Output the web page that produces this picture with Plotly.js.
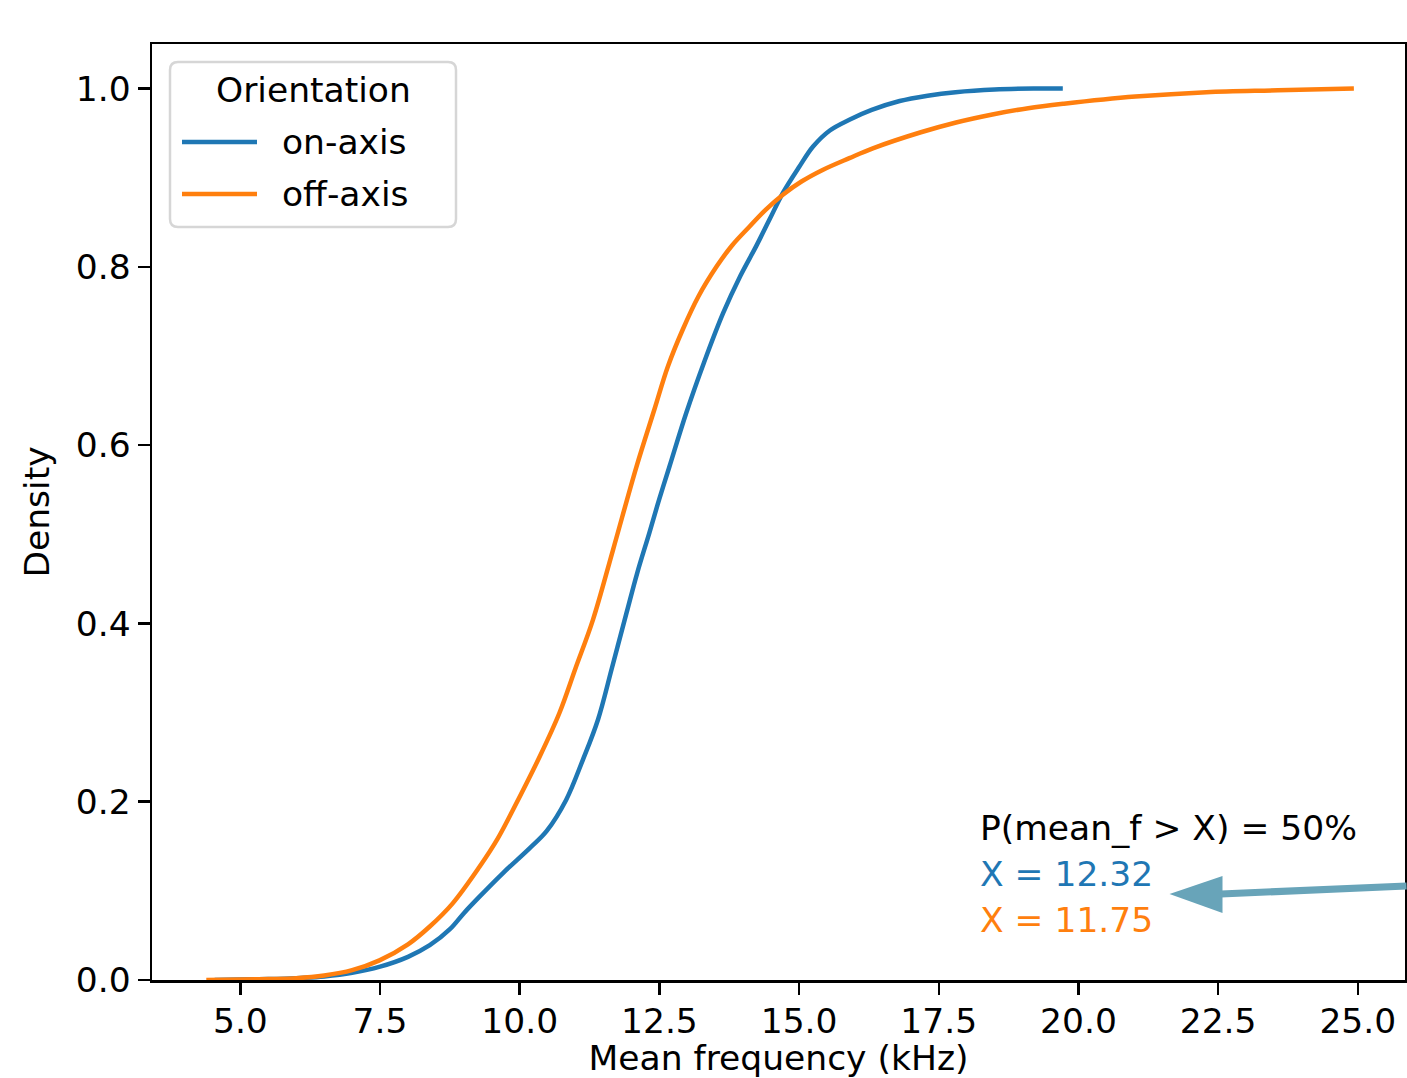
<!DOCTYPE html>
<html>
<head>
<meta charset="utf-8">
<script src="https://cdn.plot.ly/plotly-3.0.1.min.js"></script>
<style>html,body{margin:0;padding:0;background:#fff;}</style>
</head>
<body>
<div id="chart" style="width:1407px;height:1078px;"></div>
<script>
// ---- data (cumulative KDE of mean frequency) ----
const legendTitle = "Orientation";
const seriesNames = ["on-axis", "off-axis"];
const seriesColors = ["#1f77b4", "#ff7f0e"];

const onAxisX = [4.54, 5.0, 5.5, 6.0, 6.5, 7.0, 7.5, 8.0, 8.39, 8.75, 9.0, 9.28, 9.7, 10.18, 10.48, 10.83, 11.13, 11.40, 11.65, 11.91, 12.10, 12.32, 12.50, 12.68, 12.98, 13.3, 13.64, 13.95, 14.23, 14.47, 14.71, 15.0, 15.25, 15.55, 15.9, 16.3, 16.8, 17.3, 17.8, 18.5, 19.2, 19.72];
const onAxisY = [0, 0.0005, 0.001, 0.002, 0.004, 0.008, 0.015, 0.026, 0.039, 0.057, 0.075, 0.0935, 0.12, 0.148, 0.167, 0.202, 0.247, 0.292, 0.350, 0.4115, 0.456, 0.5017, 0.540, 0.576, 0.636, 0.693, 0.748, 0.790, 0.823, 0.853, 0.883, 0.912, 0.935, 0.953, 0.965, 0.976, 0.986, 0.992, 0.996, 0.999, 1.0, 1.0];

const offAxisX = [4.39, 5.0, 5.5, 6.0, 6.5, 7.0, 7.49, 8.0, 8.39, 8.8, 9.28, 9.6, 9.88, 10.36, 10.71, 11.0, 11.31, 11.67, 12.09, 12.41, 12.65, 12.92, 13.2, 13.52, 13.8, 14.11, 14.4, 14.71, 15.05, 15.43, 15.9, 16.32, 17.18, 17.81, 18.46, 19.1, 19.74, 21.02, 22.29, 23.57, 24.93];
const offAxisY = [0, 0.0005, 0.001, 0.002, 0.005, 0.011, 0.022, 0.04, 0.06, 0.086, 0.127, 0.158, 0.191, 0.251, 0.2995, 0.35, 0.404, 0.4826, 0.576, 0.64, 0.688, 0.73, 0.767, 0.80, 0.824, 0.845, 0.864, 0.881, 0.896, 0.909, 0.922, 0.933, 0.951, 0.962, 0.971, 0.978, 0.983, 0.991, 0.996, 0.998, 1.0];

const medianLabel = "P(mean_f > X) = 50%";
const medianValues = [12.32, 11.75];

const xTickVals = [5.0, 7.5, 10.0, 12.5, 15.0, 17.5, 20.0, 22.5, 25.0];
const yTickVals = [0.0, 0.2, 0.4, 0.6, 0.8, 1.0];

// ---- figure ----
const FONT = "DejaVu Sans, Liberation Sans, sans-serif";
const FS = 34.5;
const W = 1407, H = 1078;
const M = {l: 152, r: 2, t: 44, b: 98};
const PW = W - M.l - M.r, PH = H - M.t - M.b;
// pixel -> paper helpers (for legend decoration only)
const px = v => (v - M.l) / PW;
const py = v => (H - M.b - v) / PH;

const traces = seriesNames.map((name, i) => ({
  x: i === 0 ? onAxisX : offAxisX,
  y: i === 0 ? onAxisY : offAxisY,
  name: name, type: "scatter", mode: "lines", showlegend: false,
  line: {color: seriesColors[i], width: 4.5, shape: "spline", smoothing: 1.0}
}));

// custom matplotlib-style legend box
const lb = {x0: 170, x1: 456, y0: 62, y1: 227, r: 8};
const rx = lb.r / PW, ry = lb.r / PH;
const X0 = px(lb.x0), X1 = px(lb.x1), YT = py(lb.y0), YB = py(lb.y1);
const boxPath = `M ${X0+rx},${YT} L ${X1-rx},${YT} Q ${X1},${YT} ${X1},${YT-ry} L ${X1},${YB+ry} Q ${X1},${YB} ${X1-rx},${YB} L ${X0+rx},${YB} Q ${X0},${YB} ${X0},${YB+ry} L ${X0},${YT-ry} Q ${X0},${YT} ${X0+rx},${YT} Z`;
const entryY = [142, 194];

const shapes = [
  {type: "path", xref: "paper", yref: "paper", path: boxPath,
   fillcolor: "rgba(255,255,255,0.85)", line: {color: "#d6d6d6", width: 2.5}, layer: "above"}
];
const annotations = [
  {x: px(313), y: py(90), xref: "paper", yref: "paper", text: legendTitle, showarrow: false,
   xanchor: "center", yanchor: "middle", font: {family: FONT, size: FS, color: "#000"}}
];
seriesNames.forEach((name, i) => {
  shapes.push({type: "line", xref: "paper", yref: "paper", x0: px(182), x1: px(257), y0: py(entryY[i]), y1: py(entryY[i]),
               line: {color: seriesColors[i], width: 4.5}, layer: "above"});
  annotations.push({x: px(280), y: py(entryY[i]), xref: "paper", yref: "paper", text: name, showarrow: false,
                    xanchor: "left", yanchor: "middle", font: {family: FONT, size: FS, color: "#000"}});
});

// median annotation text
const textX = 18.2;
const arrowColor = "#68a4b9";
annotations.push(
  {x: textX, y: 0.1706, xref: "x", yref: "y", text: medianLabel, showarrow: false,
   xanchor: "left", yanchor: "middle", font: {family: FONT, size: FS, color: "#000"}},
  {x: textX, y: 0.119, xref: "x", yref: "y", text: "X = " + medianValues[0].toFixed(2), showarrow: false,
   xanchor: "left", yanchor: "middle", font: {family: FONT, size: FS, color: seriesColors[0]}},
  {x: textX, y: 0.0673, xref: "x", yref: "y", text: "X = " + medianValues[1].toFixed(2), showarrow: false,
   xanchor: "left", yanchor: "middle", font: {family: FONT, size: FS, color: seriesColors[1]}},
  // arrow shaft: from right edge to arrowhead base
  {x: 22.55, y: 0.0965, xref: "x", yref: "y", ax: 25.9, ay: 0.1055, axref: "x", ayref: "y",
   text: "", showarrow: true, arrowhead: 0, arrowwidth: 7, arrowcolor: arrowColor, standoff: 0, startstandoff: 0}
);
// arrowhead (pixel-sized triangle anchored at the tip)
shapes.push({type: "path", xref: "x", yref: "y", xsizemode: "pixel", ysizemode: "pixel",
  xanchor: 21.63, yanchor: 0.0965, path: "M 0 0 L 53 18 L 53 -19 Z",
  fillcolor: arrowColor, line: {width: 0}});

const axisCommon = {
  showgrid: false, zeroline: false,
  showline: true, linecolor: "#000", linewidth: 2.5, mirror: true,
  ticks: "outside", ticklen: 12, tickwidth: 2.5, tickcolor: "#000",
  tickfont: {family: FONT, size: FS, color: "#000"}, automargin: false
};

const layout = {
  width: W, height: H, margin: M,
  paper_bgcolor: "#ffffff", plot_bgcolor: "#ffffff",
  font: {family: FONT, size: FS, color: "#000"},
  showlegend: false,
  xaxis: Object.assign({}, axisCommon, {
    range: [3.418, 25.845], tickvals: xTickVals, tickformat: ".1f", ticklabelstandoff: -3,
    title: {text: "Mean frequency (kHz)", standoff: 26, font: {family: FONT, size: FS, color: "#000"}}
  }),
  yaxis: Object.assign({}, axisCommon, {
    range: [0, 1.05], tickvals: yTickVals, tickformat: ".1f",
    title: {text: "Density", standoff: 16, font: {family: FONT, size: FS, color: "#000"}}
  }),
  annotations: annotations,
  shapes: shapes
};

Plotly.newPlot("chart", traces, layout, {displayModeBar: false, staticPlot: true});
</script>
</body>
</html>
